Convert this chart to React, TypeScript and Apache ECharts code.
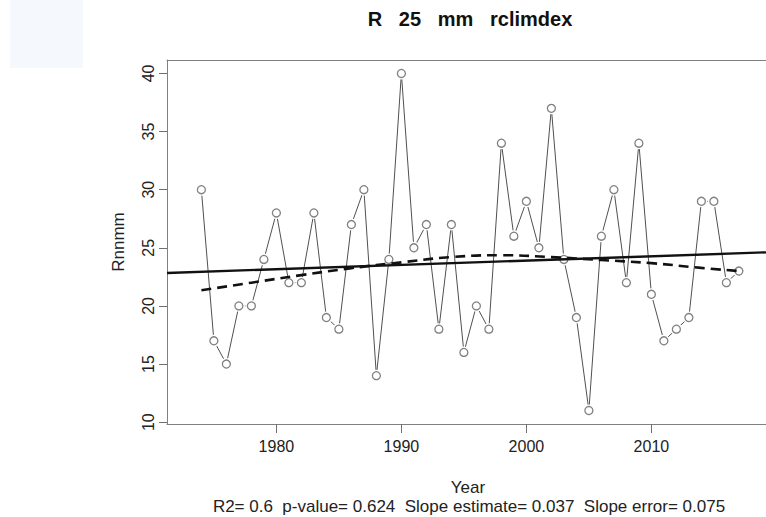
import React, { useEffect, useRef } from "react";
import * as echarts from "echarts";

const years = [
  1974, 1975, 1976, 1977, 1978, 1979, 1980, 1981, 1982, 1983, 1984, 1985, 1986, 1987, 1988,
  1989, 1990, 1991, 1992, 1993, 1994, 1995, 1996, 1997, 1998, 1999, 2000, 2001, 2002, 2003,
  2004, 2005, 2006, 2007, 2008, 2009, 2010, 2011, 2012, 2013, 2014, 2015, 2016, 2017,
];
const values = [
  30, 17, 15, 20, 20, 24, 28, 22, 22, 28, 19, 18, 27, 30, 14, 24, 40, 25, 27, 18, 27, 16,
  20, 18, 34, 26, 29, 25, 37, 24, 19, 11, 26, 30, 22, 34, 21, 17, 18, 19, 29, 29, 22, 23,
];
const smoothYears = [1974, 1978, 1982, 1986, 1990, 1994, 1998, 2002, 2006, 2010, 2014, 2017];
const smoothValues = [21.35, 22.0, 22.65, 23.25, 23.75, 24.2, 24.36, 24.2, 23.95, 23.68, 23.27, 23.0];
const trendSlope = 0.037;
const trendAt2000 = 23.9;
const xTicks = [1980, 1990, 2000, 2010];
const yTicks = [10, 15, 20, 25, 30, 35, 40];
const xMin = 1971.25;
const xMax = 2019.17;
const yMin = 9.84;
const yMax = 41.16;

const titleText = "R   25   mm   rclimdex";
const xName = "Year";
const yName = "Rnnmm";
const subText = "R2= 0.6  p-value= 0.624  Slope estimate= 0.037  Slope error= 0.075";

const FONT = "'Liberation Sans', Arial, sans-serif";
const AXIS_COLOR = "#808080";

export default function App() {
  const ref = useRef<HTMLDivElement>(null);
  useEffect(() => {
    if (!ref.current) return;
    const chart = echarts.init(ref.current, null, { renderer: "svg" });
    const pts = years.map((y, i) => [y, values[i]]);
    const trend = [xMin, xMax].map((x) => [x, trendAt2000 + trendSlope * (x - 2000)]);
    const smooth = smoothYears.map((y, i) => [y, smoothValues[i]]);
    chart.setOption({
      animation: false,
      backgroundColor: "#ffffff",
      textStyle: { fontFamily: FONT },
      grid: {
        left: 167,
        top: 60,
        right: 0,
        height: 364,
        show: false,
      },
      xAxis: [
        {
          type: "value",
          min: xMin,
          max: xMax,
          position: "bottom",
          axisLine: { show: true, lineStyle: { color: AXIS_COLOR, width: 1 } },
          splitLine: { show: false },
          axisTick: {
            show: true,
            length: 9,
            inside: false,
            customValues: xTicks,
            lineStyle: { color: "#707070", width: 1 },
          },
          axisLabel: {
            customValues: xTicks,
            fontSize: 16,
            color: "#222",
            fontFamily: FONT,
            margin: 14,
            formatter: (v: number) => String(v),
          },
        },
        {
          type: "value",
          min: xMin,
          max: xMax,
          position: "top",
          axisLine: { show: true, lineStyle: { color: AXIS_COLOR, width: 1 } },
          splitLine: { show: false },
          axisTick: { show: false },
          axisLabel: { show: false },
        },
      ],
      yAxis: {
        type: "value",
        min: yMin,
        max: yMax,
        axisLine: { show: true, lineStyle: { color: AXIS_COLOR, width: 1 } },
        splitLine: { show: false },
        axisTick: {
          show: true,
          length: 8,
          inside: false,
          customValues: yTicks,
          lineStyle: { color: "#707070", width: 1 },
        },
        axisLabel: {
          customValues: yTicks,
          fontSize: 16,
          color: "#222",
          fontFamily: FONT,
          rotate: 90,
          margin: 11,
          formatter: (v: number) => String(v),
        },
      },
      graphic: [
        { type: "rect", shape: { x: 10, y: 0, width: 73, height: 68 }, style: { fill: "#f5f9fd" }, silent: true },
        {
          type: "text",
          x: 470,
          y: 19,
          style: { text: titleText, fontSize: 20, fontWeight: "bold", fill: "#111", fontFamily: FONT, align: "center", verticalAlign: "middle" },
        },
        {
          type: "text",
          x: 468,
          y: 487,
          style: { text: xName, fontSize: 17, fill: "#222", fontFamily: FONT, align: "center", verticalAlign: "middle" },
        },
        {
          type: "text",
          x: 469,
          y: 506,
          style: { text: subText, fontSize: 17, fill: "#222", fontFamily: FONT, align: "center", verticalAlign: "middle" },
        },
        {
          type: "text",
          x: 118,
          y: 242,
          rotation: Math.PI / 2,
          style: { text: yName, fontSize: 17, fill: "#222", fontFamily: FONT, align: "center", verticalAlign: "middle" },
        },
      ],
      series: [
        {
          type: "line",
          data: pts,
          symbol: "none",
          lineStyle: { color: "#505050", width: 1 },
          z: 1,
          silent: true,
        },
        {
          type: "scatter",
          data: pts,
          symbol: "circle",
          symbolSize: 12,
          itemStyle: { color: "#ffffff", opacity: 1 },
          z: 2,
          silent: true,
        },
        {
          type: "scatter",
          data: pts,
          symbol: "circle",
          symbolSize: 8,
          itemStyle: { color: "#ffffff", borderColor: "#808080", borderWidth: 1.3, opacity: 1 },
          z: 3,
          silent: true,
        },
        {
          type: "line",
          data: trend,
          symbol: "none",
          lineStyle: { color: "#111", width: 2.4 },
          z: 4,
          silent: true,
        },
        {
          type: "line",
          data: smooth,
          symbol: "none",
          smooth: true,
          lineStyle: { color: "#111", width: 2.6, type: [10, 6] },
          z: 4,
          silent: true,
        },
      ],
    });
    return () => chart.dispose();
  }, []);
  return (
    <div
      ref={ref}
      style={{ position: "fixed", left: 0, top: 0, width: 766, height: 517, background: "#fff" }}
    />
  );
}
